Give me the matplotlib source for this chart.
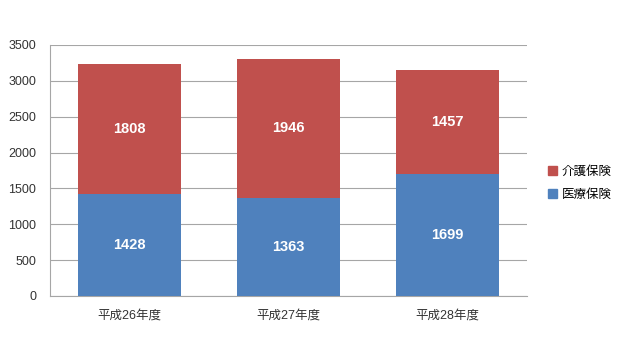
#!/usr/bin/env python3
# Stacked bar chart: 医療保険 / 介護保険 by fiscal year

import matplotlib
matplotlib.use("Agg")
import matplotlib.pyplot as plt
from matplotlib.patches import Patch

plt.rcParams["font.family"] = ["Liberation Sans", "Noto Sans CJK JP", "DejaVu Sans"]

years = ["平成26年度", "平成27年度", "平成28年度"]
iryo = [1428, 1363, 1699]   # 医療保険
kaigo = [1808, 1946, 1457]  # 介護保険

blue = "#4F81BD"
red = "#C0504D"

fig = plt.figure(figsize=(6.24, 3.6), dpi=100)
ax = fig.add_axes([0.080, 0.178, 0.765, 0.697])

x = range(len(years))
ax.bar(x, iryo, width=0.65, color=blue, zorder=3)
ax.bar(x, kaigo, width=0.65, bottom=iryo, color=red, zorder=3)

for i in x:
    ax.text(i, iryo[i] / 2, str(iryo[i]), ha="center", va="center",
            color="white", fontsize=10.5, fontweight="bold", zorder=4)
    ax.text(i, iryo[i] + kaigo[i] / 2, str(kaigo[i]), ha="center", va="center",
            color="white", fontsize=10.5, fontweight="bold", zorder=4)

ax.set_xlim(-0.5, 2.5)
ax.set_ylim(0, 3500)
ax.set_yticks(range(0, 3501, 500))
ax.set_xticks(list(x))
ax.set_xticklabels(years)
ax.grid(axis="y", color="#A6A6A6", linewidth=0.8, zorder=0)
for s in ["top", "right"]:
    ax.spines[s].set_visible(False)
ax.spines["left"].set_color("#A6A6A6")
ax.spines["bottom"].set_color("#A6A6A6")
ax.tick_params(axis="both", length=0, labelsize=9, colors="#333333")
ax.tick_params(axis="y", pad=10)
ax.tick_params(axis="x", pad=10)

handles = [Patch(color=red, label="介護保険"), Patch(color=blue, label="医療保険")]
fig.legend(handles=handles, loc="center left", bbox_to_anchor=(0.86, 0.49),
           frameon=False, fontsize=9, handlelength=0.7, handleheight=0.7,
           handletextpad=0.4, labelspacing=0.9)

fig.savefig("out.png", dpi=100)
